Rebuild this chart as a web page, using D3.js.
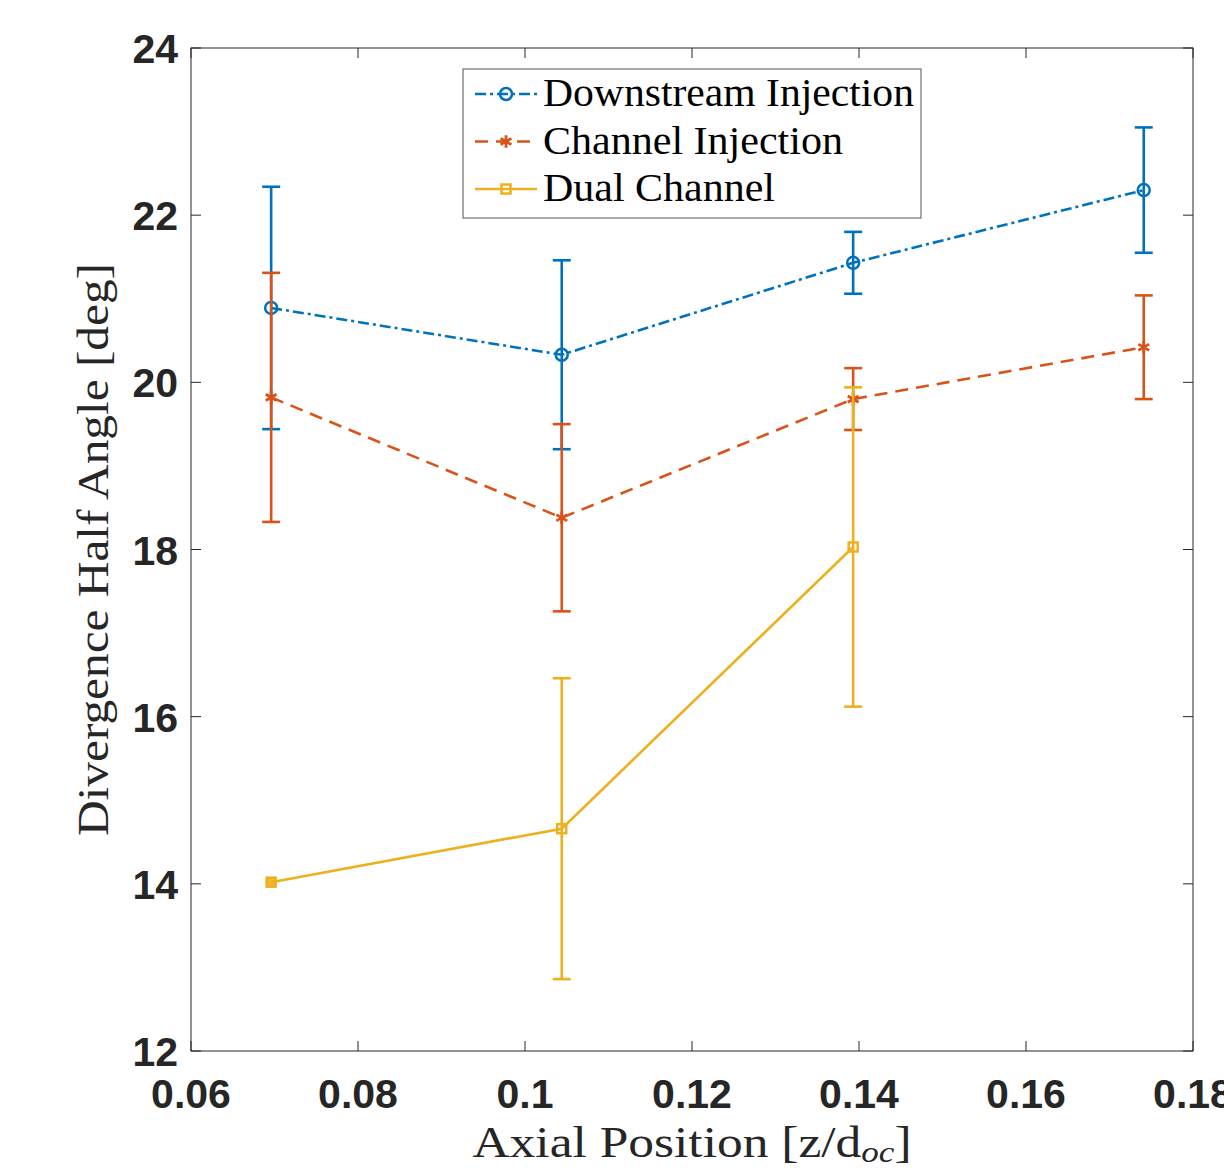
<!DOCTYPE html>
<html>
<head>
<meta charset="utf-8">
<script src="https://cdn.jsdelivr.net/npm/d3@7"></script>
<style>
  body { margin: 0; background: #fff; }
  svg { display: block; }
</style>
</head>
<body>
<div id="chart"></div>
<script>
// values
var xPositions = [0.0696, 0.1044, 0.1393, 0.1741];
var downstream = [20.89, 20.33, 21.43, 22.30];
var downstreamErr = [1.45, 1.13, 0.37, 0.75];
var channel = [19.82, 18.38, 19.80, 20.42];
var channelErr = [1.49, 1.12, 0.37, 0.62];
var dual = [14.02, 14.66, 18.03];
var dualErr = [0, 1.80, 1.91];
var xTicks = [0.06, 0.08, 0.1, 0.12, 0.14, 0.16, 0.18];
var yTicks = [12, 14, 16, 18, 20, 22, 24];

var width = 1224, height = 1168;
var margin = { top: 48, left: 191, right: 31, bottom: 117 };

var svg = d3.select("#chart").append("svg")
    .attr("width", width)
    .attr("height", height);

var x = d3.scaleLinear().domain([0.06, 0.18]).range([margin.left, width - margin.right]);
var y = d3.scaleLinear().domain([12, 24]).range([height - margin.bottom, margin.top]);

var axisColor = "#262626";
var serif = "Liberation Serif, Times New Roman, serif";

// box
svg.append("rect")
    .attr("x", x(0.06)).attr("y", y(24))
    .attr("width", x(0.18) - x(0.06))
    .attr("height", y(12) - y(24))
    .attr("fill", "none")
    .attr("stroke", axisColor)
    .attr("stroke-width", 1);

// inward ticks on all four sides
var tickLen = 10;
svg.append("g").selectAll("line").data(xTicks).join("line")
    .attr("x1", d => x(d)).attr("x2", d => x(d))
    .attr("y1", y(12)).attr("y2", y(12) - tickLen)
    .attr("stroke", axisColor);
svg.append("g").selectAll("line").data(xTicks).join("line")
    .attr("x1", d => x(d)).attr("x2", d => x(d))
    .attr("y1", y(24)).attr("y2", y(24) + tickLen)
    .attr("stroke", axisColor);
svg.append("g").selectAll("line").data(yTicks).join("line")
    .attr("x1", x(0.06)).attr("x2", x(0.06) + tickLen)
    .attr("y1", d => y(d)).attr("y2", d => y(d))
    .attr("stroke", axisColor);
svg.append("g").selectAll("line").data(yTicks).join("line")
    .attr("x1", x(0.18)).attr("x2", x(0.18) - tickLen)
    .attr("y1", d => y(d)).attr("y2", d => y(d))
    .attr("stroke", axisColor);

// tick labels
var fmt = d3.format("");
svg.append("g").selectAll("text").data(xTicks).join("text")
    .attr("x", d => x(d))
    .attr("y", y(12) + 57)
    .attr("text-anchor", "middle")
    .attr("font-family", "Liberation Sans, Arial, sans-serif")
    .attr("font-weight", "bold")
    .attr("font-size", "41px")
    .attr("fill", axisColor)
    .text(d => fmt(d));
svg.append("g").selectAll("text").data(yTicks).join("text")
    .attr("x", x(0.06) - 13)
    .attr("y", d => y(d) + 15)
    .attr("text-anchor", "end")
    .attr("font-family", "Liberation Sans, Arial, sans-serif")
    .attr("font-weight", "bold")
    .attr("font-size", "41px")
    .attr("fill", axisColor)
    .text(d => d);

// axis titles (widened to match the LaTeX font in the original)
var xTitle = svg.append("g")
    .attr("transform", "translate(" + ((x(0.06) + x(0.18)) / 2) + ",1157) scale(1.17,1)")
    .append("text")
    .attr("text-anchor", "middle")
    .attr("font-family", serif)
    .attr("font-size", "44px")
    .attr("fill", axisColor);
xTitle.append("tspan").text("Axial Position [z/d");
xTitle.append("tspan").attr("font-size", "30px").attr("font-style", "italic").attr("dy", 5).text("oc");
xTitle.append("tspan").attr("dy", -5).text("]");

svg.append("g")
    .attr("transform", "translate(108," + ((y(12) + y(24)) / 2) + ") rotate(-90)")
    .append("text")
    .attr("text-anchor", "middle")
    .attr("font-family", serif)
    .attr("font-size", "45px")
    .attr("fill", axisColor)
    .attr("textLength", 573)
    .attr("lengthAdjust", "spacingAndGlyphs")
    .text("Divergence Half Angle [deg]");

// series
var series = [
    { name: "Downstream Injection", vals: downstream, errs: downstreamErr, color: "#0072BD", dash: "11,4,3,4", marker: "circle", textW: 371 },
    { name: "Channel Injection", vals: channel, errs: channelErr, color: "#D95319", dash: "13,8", marker: "asterisk", textW: 300 },
    { name: "Dual Channel", vals: dual, errs: dualErr, color: "#EDB120", dash: null, marker: "square", textW: 232 }
];

function drawMarker(g, type, cx, cy, color) {
    if (type === "circle") {
        g.append("circle").attr("cx", cx).attr("cy", cy).attr("r", 6)
            .attr("fill", "none").attr("stroke", color).attr("stroke-width", 2.5);
    } else if (type === "square") {
        g.append("rect").attr("x", cx - 4.5).attr("y", cy - 4.5).attr("width", 9).attr("height", 9)
            .attr("fill", "none").attr("stroke", color).attr("stroke-width", 2.5);
    } else {
        var s = d3.symbol().type(d3.symbolAsterisk).size(110);
        g.append("path").attr("d", s()).attr("transform", "translate(" + cx + "," + cy + ")")
            .attr("fill", "none").attr("stroke", color).attr("stroke-width", 2.8);
    }
}

var line = d3.line().x(d => x(d[0])).y(d => y(d[1]));
var cap = 9;

series.forEach(function (s) {
    var g = svg.append("g");
    var pts = s.vals.map((v, i) => [xPositions[i], v, s.errs[i]]);
    // error bars (a zero-length bar only thickens the marker)
    pts.forEach(function (p) {
        var cx = x(p[0]), top = y(p[1] + p[2]), bot = y(p[1] - p[2]);
        if (p[2] === 0) {
            g.append("rect").attr("x", cx - 4.5).attr("y", y(p[1]) - 4.5).attr("width", 9).attr("height", 9)
                .attr("fill", s.color).attr("opacity", 0.9);
            return;
        }
        g.append("line").attr("x1", cx).attr("x2", cx).attr("y1", top).attr("y2", bot)
            .attr("stroke", s.color).attr("stroke-width", 2.6);
        g.append("line").attr("x1", cx - cap).attr("x2", cx + cap).attr("y1", top).attr("y2", top)
            .attr("stroke", s.color).attr("stroke-width", 2.6);
        g.append("line").attr("x1", cx - cap).attr("x2", cx + cap).attr("y1", bot).attr("y2", bot)
            .attr("stroke", s.color).attr("stroke-width", 2.6);
    });
    g.append("path").datum(pts).attr("d", line)
        .attr("fill", "none").attr("stroke", s.color).attr("stroke-width", 2.6)
        .attr("stroke-dasharray", s.dash);
    pts.forEach(p => drawMarker(g, s.marker, x(p[0]), y(p[1]), s.color));
});

// legend
var legend = svg.append("g");
legend.append("rect")
    .attr("x", 463).attr("y", 69).attr("width", 458).attr("height", 149)
    .attr("fill", "#fff").attr("stroke", "#555").attr("stroke-width", 1);
series.forEach(function (s, i) {
    var ly = 94 + i * 47.5;
    legend.append("line").attr("x1", 475).attr("x2", 537).attr("y1", ly).attr("y2", ly)
        .attr("stroke", s.color).attr("stroke-width", 2.6).attr("stroke-dasharray", s.dash);
    drawMarker(legend, s.marker, 506, ly, s.color);
    legend.append("text")
        .attr("x", 543).attr("y", ly + 12)
        .attr("font-family", serif)
        .attr("font-size", "39px")
        .attr("fill", "#000")
        .attr("textLength", s.textW)
        .attr("lengthAdjust", "spacingAndGlyphs")
        .text(s.name);
});
</script>
</body>
</html>
